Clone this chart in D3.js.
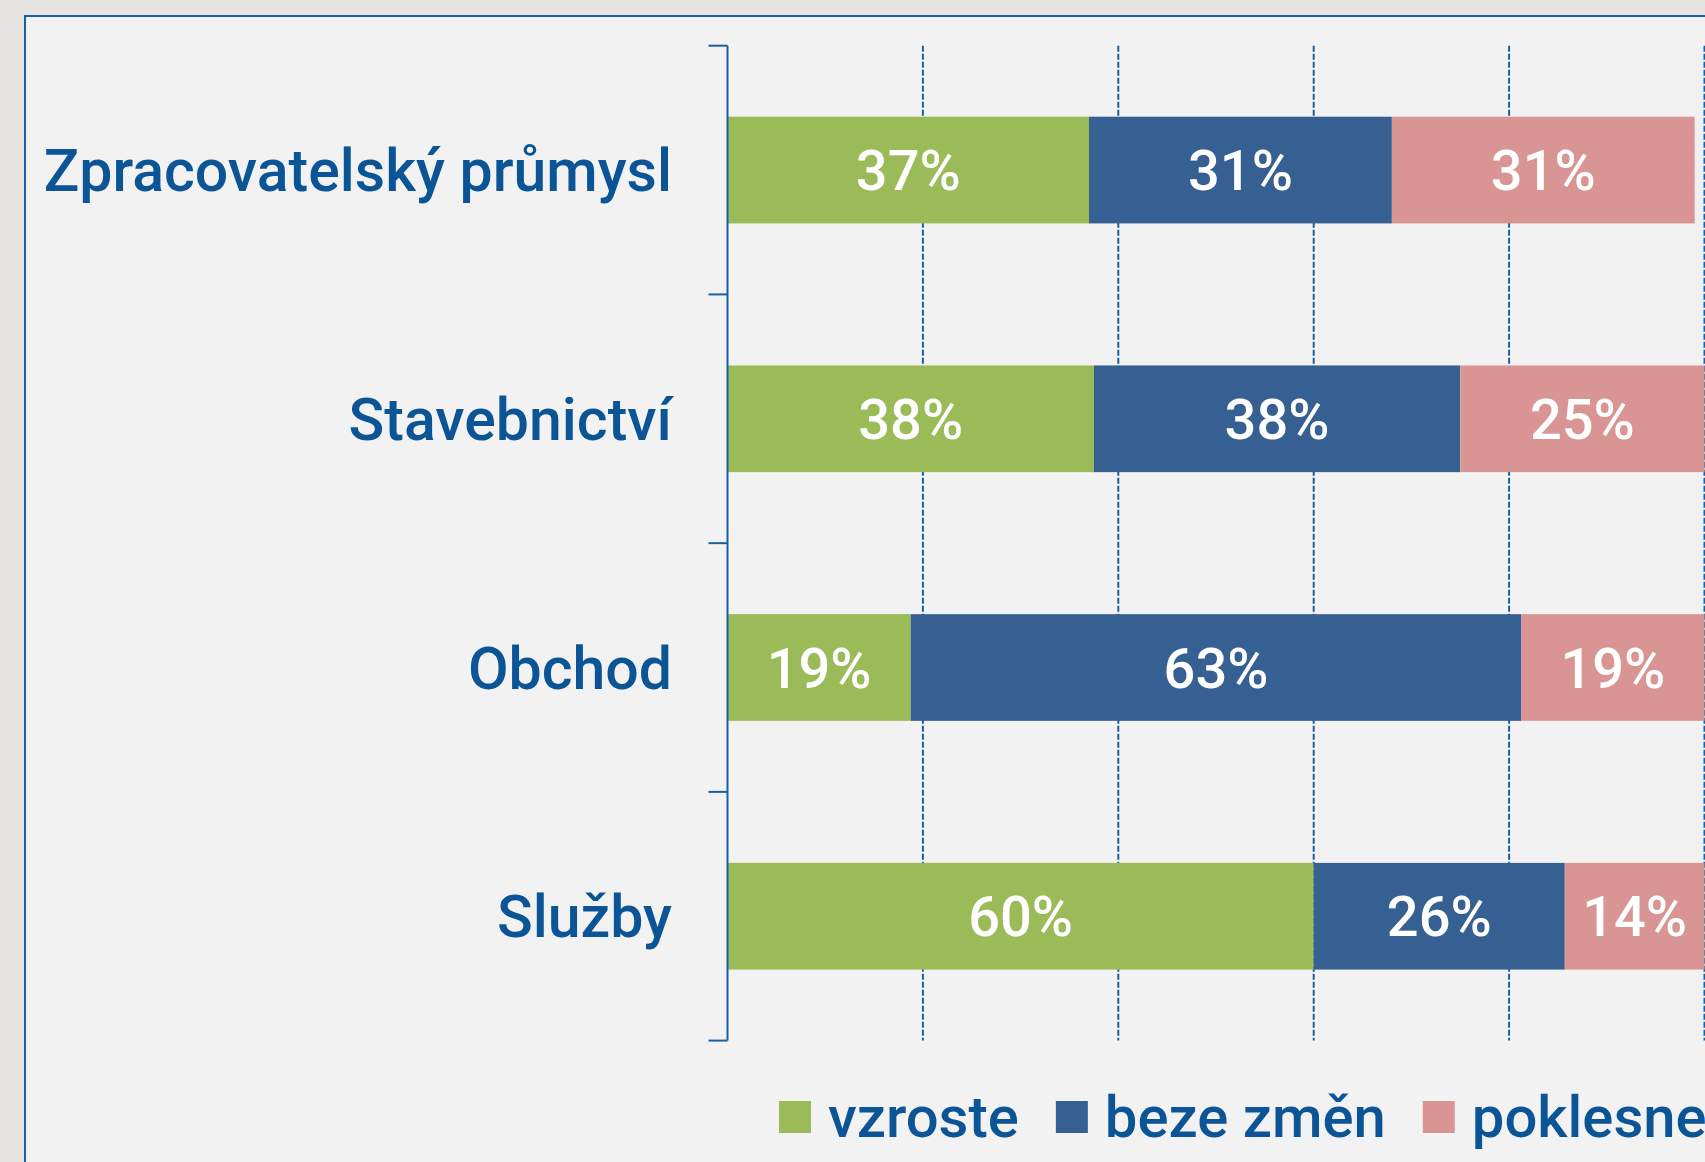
<!DOCTYPE html>
<meta charset="utf-8">
<html>
<head>
<style>
  body { margin: 0; background: #e6e5e1; }
  svg { display: block; font-family: Roboto, "Noto Sans", sans-serif; }
</style>
<script src="https://cdn.jsdelivr.net/npm/d3@7"></script>
</head>
<body>
<div id="vis"></div>
<script>
// data
var categories = ["Zpracovatelský průmysl", "Stavebnictví", "Obchod", "Služby"];
var seriesNames = ["vzroste", "beze změn", "poklesne"];
var vzroste  = [37, 37.5, 18.75, 60];
var bezeZmen = [31, 37.5, 62.5, 25.7];
var poklesne = [31, 25, 18.75, 14.3];
var gridTicks = [20, 40, 60, 80, 100];
var colors = ["#9bbb59", "#376092", "#d99594"];

var width = 1705, height = 1162;
var svg = d3.select("#vis").append("svg")
    .attr("width", width)
    .attr("height", height);

// panel with blue border (runs off the right / bottom edge)
svg.append("rect")
    .attr("x", 25).attr("y", 16)
    .attr("width", width + 20).attr("height", height + 20)
    .attr("fill", "#f2f2f2")
    .attr("stroke", "#1461a8")
    .attr("stroke-width", 2);

var x = d3.scaleLinear().domain([0, 100]).range([727.5, 1704.5]);
var y = d3.scaleBand()
    .domain(categories)
    .range([45.7, 1040.6])
    .paddingInner(0.571)
    .paddingOuter(0.2855);

// build stacked rows
var rows = categories.map(function(c, i) {
  return { cat: c, vzroste: vzroste[i], beze: bezeZmen[i], pokles: poklesne[i] };
});
var stack = d3.stack().keys(["vzroste", "beze", "pokles"]);
var series = stack(rows);

// dashed gridlines
svg.append("g").selectAll("line")
  .data(gridTicks)
  .enter().append("line")
    .attr("x1", function(d) { return x(d); })
    .attr("x2", function(d) { return x(d); })
    .attr("y1", y.range()[0])
    .attr("y2", y.range()[1])
    .attr("stroke", "#1a5fa3")
    .attr("stroke-width", 2)
    .attr("stroke-dasharray", "6,2");

// bars
var layer = svg.append("g").selectAll("g")
  .data(series)
  .enter().append("g")
    .attr("fill", function(d, i) { return colors[i]; });

layer.selectAll("rect")
  .data(function(d) { return d; })
  .enter().append("rect")
    .attr("x", function(d) { return x(d[0]); })
    .attr("width", function(d) { return x(d[1]) - x(d[0]); })
    .attr("y", function(d) { return y(d.data.cat); })
    .attr("height", y.bandwidth());

// value labels
layer.selectAll("text")
  .data(function(d) { return d; })
  .enter().append("text")
    .attr("x", function(d) { return (x(d[0]) + x(d[1])) / 2; })
    .attr("y", function(d) { return y(d.data.cat) + y.bandwidth() / 2; })
    .attr("dy", "0.36em")
    .attr("text-anchor", "middle")
    .attr("fill", "#fff")
    .attr("font-size", "56px")
    .attr("font-weight", 500)
    .text(function(d) { return Math.round(d[1] - d[0]) + "%"; });

// y axis: line with ticks at the band edges
var axisX = x(0);
var gap = y.step() - y.bandwidth();
var edges = categories.map(function(c) { return y(c) - gap / 2; });
edges.push(y.range()[1]);
var axis = svg.append("g").attr("stroke", "#1a5fa3").attr("stroke-width", 2);
axis.append("line")
    .attr("x1", axisX).attr("x2", axisX)
    .attr("y1", y.range()[0]).attr("y2", y.range()[1]);
axis.selectAll(".tick")
  .data(edges)
  .enter().append("line")
    .attr("class", "tick")
    .attr("x1", axisX - 19).attr("x2", axisX)
    .attr("y1", function(d) { return d; })
    .attr("y2", function(d) { return d; });

// category labels
svg.append("g").selectAll("text")
  .data(categories)
  .enter().append("text")
    .attr("x", 672)
    .attr("y", function(d) { return y(d) + y.bandwidth() / 2; })
    .attr("dy", "0.36em")
    .attr("text-anchor", "end")
    .attr("fill", "#0b5495")
    .attr("font-size", "59px")
    .attr("font-weight", 500)
    .text(function(d) { return d; });

// legend (last entry runs off the right edge, as in the original)
var legend = svg.append("g");
var lx = 779;
seriesNames.forEach(function(name, i) {
  legend.append("rect")
      .attr("x", lx).attr("y", 1101)
      .attr("width", 32).attr("height", 32)
      .attr("fill", colors[i]);
  var t = legend.append("text")
      .attr("x", lx + 49).attr("y", 1137)
      .attr("fill", "#0b5495")
      .attr("font-size", "58px")
      .attr("font-weight", 500)
      .text(name);
  lx = lx + 49 + t.node().getComputedTextLength() + 37;
});
</script>
</body>
</html>
